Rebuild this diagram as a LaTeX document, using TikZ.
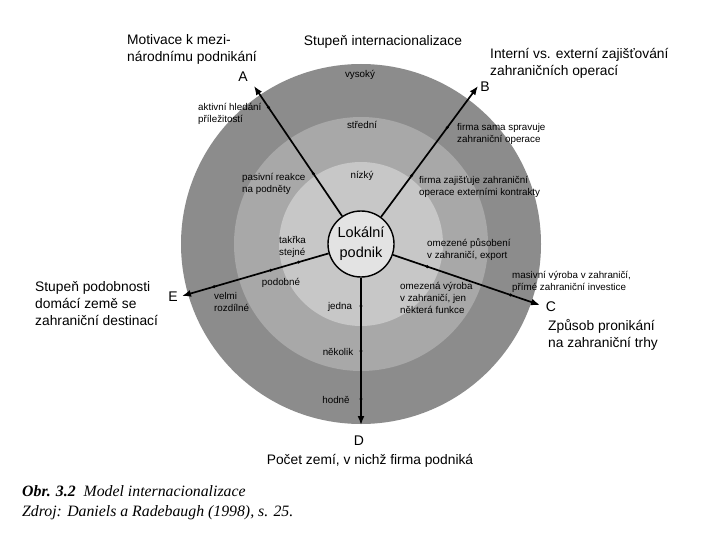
\documentclass[tikz,border=0pt]{standalone}
\usepackage{fontspec}
\setmainfont{Liberation Sans}
\newfontfamily\zdrojfont{Liberation Serif}
\usetikzlibrary{arrows.meta,calc}

\definecolor{kruhvnejsi}{gray}{0.55}
\definecolor{kruhstredni}{gray}{0.66}
\definecolor{kruhvnitrni}{gray}{0.78}

\begin{document}
\begin{tikzpicture}[x=1pt,y=-1pt,
		drobny/.style={font=\fontsize{9.8}{12}\selectfont,align=left,inner sep=0pt},
		popis/.style={font=\fontsize{13.8}{17}\selectfont,align=left,inner sep=0pt},
		pismeno/.style={font=\fontsize{14}{16}\selectfont,inner sep=0pt},
		osa/.style={line width=1.7pt,-{Latex[length=9pt,width=7pt]}}]
			\useasboundingbox (0,0) rectangle (720,540);
			\coordinate (S) at (361,244);

			% soustredne kruhy
			\fill[kruhvnejsi] (S) circle[radius=180pt];
			\fill[kruhstredni] (S) circle[radius=127pt];
			\fill[kruhvnitrni] (S) circle[radius=82pt];

			\node[circle,draw,line width=1.4pt,fill=gray!22,minimum size=66pt,inner sep=0pt,
				align=center,font=\fontsize{14.5}{20}\selectfont] (lok) at (S) {Lokální\\podnik};

			\coordinate (tipA) at (254,86);
			\coordinate (tipB) at (478,86);
			\coordinate (tipC) at (540,305);
			\coordinate (tipD) at (361,425);
			\coordinate (tipE) at (182,296);

			\foreach \t in {tipA,tipB,tipC,tipD,tipE}
				\draw[osa] (lok) -- (\t);

			\foreach \t/\d in {tipA/85,tipA/165,tipB/85,tipB/145,tipC/70,tipC/158,
				tipD/62,tipD/107,tipD/155,tipE/65,tipE/94,tipE/153}
				\fill ($(S)!\d pt!(\t)$) circle[radius=1.7pt];

			\node[pismeno] (lA) at (243,77) {A};
			\node[pismeno] (lB) at (485,87) {B};
			\node[pismeno] (lC) at (551,307) {C};
			\node[pismeno] (lD) at (359,441) {D};
			\node[pismeno] (lE) at (173,297) {E};

			% stupne v kruzich
			\node[drobny] (vys) at (360,75) {vysoký};
			\node[drobny] (str) at (362,125) {střední};
			\node[drobny] (niz) at (362,176) {nízký};

			\node[drobny,anchor=west] (akt) at (198,114) {aktivní hledání\\příležitostí};
			\node[drobny,anchor=west] (pas) at (242,184) {pasivní reakce\\na podněty};
			\node[drobny,anchor=west] (sama) at (457,134) {firma sama spravuje\\zahraniční operace};
			\node[drobny,anchor=west] (zaj) at (419,187) {firma zajišťuje zahraniční\\operace externími kontrakty};
			\node[drobny,anchor=west] (takr) at (279,247) {takřka\\stejné};
			\node[drobny] (podo) at (281,283) {podobné};
			\node[drobny,anchor=west] (velmi) at (214,302) {velmi\\rozdílné};
			\node[drobny] (jed) at (340,307) {jedna};
			\node[drobny] (nek) at (338,352) {několik};
			\node[drobny] (hod) at (336,400) {hodně};
			\node[drobny,anchor=west] (omp) at (427,250) {omezené působení\\v zahraničí, export};
			\node[drobny,anchor=west] (omv) at (400,298) {omezená výroba\\v zahraničí, jen\\některá funkce};
			\node[drobny,anchor=west] (mas) at (512,282) {masivní výroba v zahraničí,\\přímé zahraniční investice};

			% popisy os
			\node[popis,anchor=west] (motiv) at (127,49) {Motivace k mezi-\\národnímu podnikání};
			\node[popis] (stupen) at (383,42) {Stupeň internacionalizace};
			\node[popis,anchor=west] (inter) at (490,63) {Interní vs. externí zajišťování\\zahraničních operací};
			\node[popis,anchor=west] (podob) at (35,304) {Stupeň podobnosti\\domácí země se\\zahraniční destinací};
			\node[popis,anchor=west] (zpus) at (548,335) {Způsob pronikání\\na zahraniční trhy};
			\node[popis] (pocet) at (370,461) {Počet zemí, v nichž firma podniká};

			\node[anchor=west,inner sep=0pt,font=\zdrojfont\fontsize{15.8}{18}\selectfont] (obr) at (22,491)
				{\textbf{\textit{Obr. 3.2}}\ \ \textit{Model internacionalizace}};
			\node[anchor=west,inner sep=0pt,font=\zdrojfont\fontsize{15.8}{18}\selectfont] (zdroj) at (22,513)
				{\textit{Zdroj: Daniels a Radebaugh (1998), s. 25.}};

			% \draw[help lines,step=20] (0,0) grid (720,540);
		\end{tikzpicture}
\end{document}
